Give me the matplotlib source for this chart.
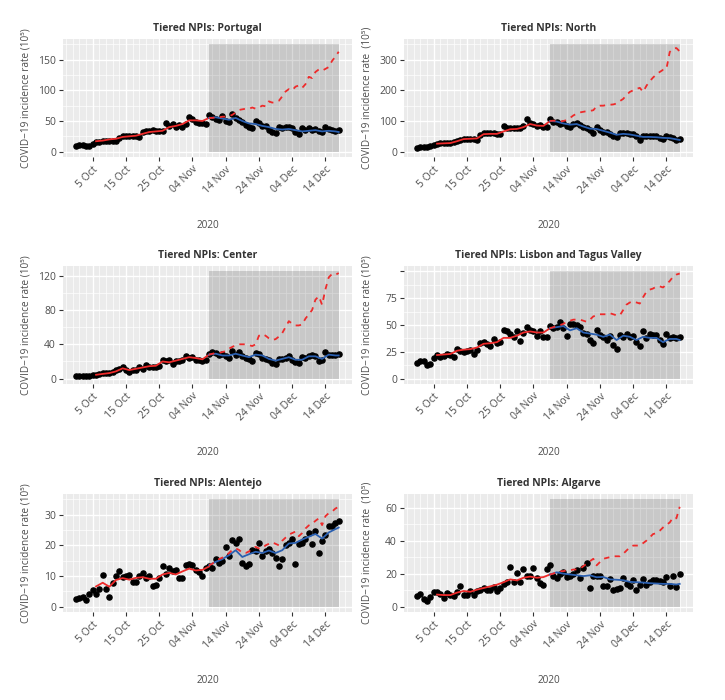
import numpy as np
import pandas as pd
import matplotlib
matplotlib.use("Agg")
import matplotlib.pyplot as plt
from matplotlib.patches import Rectangle

plt.rcParams['font.family'] = ['Open Sans', 'DejaVu Sans']

# daily observations 30 Sep - 18 Dec 2020
dates = pd.date_range("2020-09-30", "2020-12-18", freq="D")
fit_days = np.arange(6, 41, 2)            # fitted line (before tiered NPIs)
blue_days = np.append(np.arange(40, 79, 2), 79)  # fitted line with NPIs
post_days = np.arange(40, 80)            # counterfactual without NPIs
npi_start, npi_end = 40, 79

tick_dates = pd.to_datetime(["2020-10-05", "2020-10-15", "2020-10-25", "2020-11-04",
                             "2020-11-14", "2020-11-24", "2020-12-04", "2020-12-14"])
tick_labels = ["5 Oct", "15 Oct", "25 Oct", "04 Nov", "14 Nov", "24 Nov", "04 Dec", "14 Dec"]

# Portugal
portugal_obs = [10, 11, 11, 10, 9, 12, 15, 16, 17, 17, 18, 18, 17, 23, 25, 25, 26, 25, 25, 24,
                32, 34, 34, 35, 34, 33, 33, 46, 42, 45, 40, 44, 41, 45, 57, 54, 49, 47, 47, 45,
                60, 57, 54, 52, 58, 50, 48, 61, 55, 52, 48, 43, 41, 39, 50, 46, 42, 42, 36, 32,
                30, 41, 39, 41, 40, 38, 32, 28, 38, 35, 38, 36, 37, 33, 32, 40, 37, 35, 34, 35]
portugal_fit = [17, 18, 20, 21, 24, 25, 26, 29, 32, 33, 34, 40, 42, 45, 51, 51, 50, 55]
portugal_npi = [55, 56, 54, 52, 55, 50, 46, 45, 42, 40, 37, 36, 37, 35, 33, 34, 35, 33, 34, 33, 32]
portugal_cf = [55, 55, 56, 56, 57, 57, 58, 60, 64, 68, 69, 70, 70, 72, 70, 72, 75, 74, 82, 80,
               81, 83, 90, 98, 102, 100, 106, 108, 104, 110, 122, 120, 130, 134, 132, 135, 138, 148, 155, 163]

# North
north_obs = [13, 16, 16, 16, 17, 22, 26, 27, 27, 27, 28, 30, 36, 39, 41, 41, 41, 41, 39, 55,
             61, 61, 61, 61, 58, 57, 83, 78, 76, 76, 78, 78, 83, 105, 94, 90, 85, 86, 82, 80,
             105, 98, 98, 90, 93, 85, 80, 90, 94, 87, 80, 76, 69, 61, 80, 72, 65, 63, 58, 52,
             47, 61, 61, 60, 58, 58, 50, 39, 52, 50, 50, 50, 50, 44, 41, 50, 47, 45, 39, 41]
north_fit = [26, 27, 28, 34, 41, 42, 43, 57, 58, 58, 66, 73, 74, 80, 90, 85, 84, 100]
north_npi = [100, 98, 92, 88, 90, 82, 75, 74, 68, 62, 55, 58, 56, 52, 48, 48, 47, 45, 44, 40, 38]
north_cf = [100, 101, 100, 98, 100, 103, 110, 118, 124, 128, 130, 132, 133, 135, 148, 150, 150, 152, 153, 154,
            157, 165, 172, 185, 195, 200, 205, 208, 195, 215, 230, 242, 252, 260, 267, 270, 325, 336, 338, 327]

# Center
center_obs = [3, 3, 3, 3.2, 3.5, 4, 4, 5, 6, 6, 7, 8, 10, 11, 13, 10, 8, 10.5, 10, 14,
              11, 16, 13, 14, 14, 15, 22, 21, 22, 17, 20, 21, 22, 26, 24, 25, 21.5, 22, 21, 21.5,
              29, 31, 30, 27, 29, 26, 24.6, 32, 27, 31, 26, 24.6, 23.4, 20.7, 30, 29, 24.6, 23.4, 22, 18.4,
              17.6, 22.3, 23.4, 24.6, 26, 21.5, 19.5, 18.4, 25.4, 24.6, 26, 27, 26, 20.7, 22, 31, 27, 27, 27, 29]
center_fit = [4.5, 5.5, 6.5, 8.5, 12, 10, 11.5, 13, 14.5, 15, 20, 19, 21, 23, 25, 24, 22.5, 28]
center_npi = [28, 29, 27, 27, 29, 27, 25, 28, 27, 23, 21, 23, 25, 22, 22, 26, 26, 23, 28, 27, 27]
center_cf = [28, 29, 30, 30, 31, 32, 35, 37, 39, 40, 40, 40, 39, 38, 40, 50, 52, 50, 47, 45,
             46, 49, 53, 60, 67, 64, 62, 62, 63, 70, 75, 80, 92, 96, 86, 104, 118, 122, 121, 123]

# Lisbon and Tagus Valley
lisbon_obs = [15, 16.5, 16.5, 12.5, 13.4, 19, 22, 20, 21, 23, 22, 20, 28, 26, 25, 26, 27, 23.4, 27, 33.4,
              34, 32, 30, 36.5, 33, 34, 45, 44, 41.5, 39, 44.7, 35, 43, 48, 45, 44.7, 40, 44.7, 39, 38.4,
              49, 47, 48, 53, 47, 40, 51, 51, 50, 48, 43, 42, 36, 33, 45, 40.6, 39, 36, 40, 31,
              28, 40.6, 39, 42, 39, 40, 34, 30, 44.7, 37.5, 42, 40.6, 40.6, 36, 32, 42, 37.5, 39, 37.5, 38.4]
lisbon_fit = [22, 22.5, 23, 26, 27, 27.5, 29, 32.5, 33, 34, 38, 38, 40, 43, 44, 43, 43, 47]
lisbon_npi = [47, 48, 49, 45, 47, 43, 42, 41, 39, 41, 36, 40, 39, 36, 39, 38, 38, 34, 37, 37, 36]
lisbon_cf = [47, 48, 49, 50, 51, 53, 54, 55, 55, 55, 54, 53, 55, 58, 59, 60, 60, 60, 61, 60,
             59, 59, 64, 69, 71, 72, 71, 70, 76, 81, 83, 84, 86, 86, 85, 88, 91, 95, 97, 98]

# Alentejo
alentejo_obs = [2.5, 2.7, 3.3, 2.2, 4.2, 5.3, 4.2, 5.6, 10.2, 5.6, 3.3, 7.7, 9.9, 11.6, 9.6, 9.9, 10.4, 8, 8, 9.9,
                11, 9.4, 9.9, 6.7, 7.2, 9.4, 13.3, 10.5, 12.7, 11.6, 11.8, 9.4, 9.4, 13.5, 14, 13.5, 11.8, 11.3, 9.9, 12.7,
                13.1, 12.7, 15.7, 14.2, 14.9, 19.3, 16.6, 21.7, 20.8, 22, 14.2, 13.1, 14, 18.4, 18.2, 20.8, 16.4, 18.2, 18.8, 17.5,
                16, 13.1, 15.7, 20, 20.6, 22.2, 14, 20.4, 20.8, 22.2, 24.1, 20.4, 24.8, 17.5, 21.5, 23.5, 26.3, 26.3, 27.2, 28]
alentejo_fit = [6.6, 7.8, 6.5, 8.7, 9.3, 8.8, 9.4, 9.6, 9.1, 9.1, 10.5, 11, 10.5, 11.5, 12.4, 11.8, 12, 13.1]
alentejo_npi = [13.5, 14.6, 15.5, 16.8, 18.4, 16.2, 17.1, 17.9, 17.5, 18.3, 17.5, 18.4, 20.6, 20.8, 21.9,
                22.8, 23.7, 22.2, 24.2, 25.3, 25.8]
alentejo_cf = [13.5, 14, 15, 15.5, 16, 16.5, 17.5, 18.5, 19, 18.5, 17.5, 17.5, 18, 19, 19.5, 19, 19, 20, 20.5, 21,
               20.5, 20, 21.5, 22.5, 23.5, 24, 24.5, 23, 24, 25.5, 26.5, 27, 28, 28.8, 26.6, 29.5, 30.5, 31, 32, 32.6]

# Algarve
algarve_obs = [6.7, 7.7, 4.7, 3.3, 6.1, 8.7, 8.7, 7.7, 5.3, 8.1, 7.3, 6.7, 8.7, 12.8, 7.3, 7.3, 9.3, 7.3, 9.3, 10.2,
               11.4, 9.8, 9.8, 12.2, 9.3, 11.4, 13.8, 14.8, 24, 14.8, 20.3, 14.8, 23, 18.3, 18.3, 23.6, 17.5, 14.2, 13.4, 23,
               25, 18.3, 17.5, 19.9, 21, 17.9, 18.3, 19.5, 22.4, 17.5, 23.6, 26.4, 11.4, 18.3, 18.3, 18.3, 12.8, 12.8, 16.9, 10.2,
               10.8, 11.4, 17.5, 13.8, 12.8, 15.9, 10.2, 13.4, 16.9, 13.4, 14.8, 15.9, 15.9, 15.4, 14.8, 17.9, 12.8, 18.3, 11.8, 19.5]
algarve_fit = [7.3, 7, 7, 8.5, 9.5, 9, 10.3, 11.3, 12.3, 13.3, 14.8, 16.5, 15.9, 17.5, 18.2, 17.5, 17.9, 19.5]
algarve_npi = [19.5, 20.8, 20, 19.5, 19, 18.5, 19, 17.8, 18, 16.5, 16.3, 16, 15, 14.8, 14.6, 14.2, 14, 13.8,
               13.8, 13.4, 13.8]
algarve_cf = [19.5, 20, 21, 21.5, 21.5, 22, 22, 22.5, 22.5, 23, 24.5, 26, 27.5, 29, 25, 27, 29, 29.5, 30, 30.5,
              30.5, 30.5, 32, 34, 36, 37, 37, 37, 38.5, 40, 42, 44, 44.5, 46, 48, 49.5, 51, 54, 53.5, 60.5]

panels = [
    ("Portugal", portugal_obs, portugal_fit, portugal_npi, portugal_cf, 175,
     [0, 50, 100, 150], ["0", "50", "100", "150"], [25, 75, 125, 175], ""),
    ("North", north_obs, north_fit, north_npi, north_cf, 350,
     [0, 100, 200, 300], ["0", "100", "200", "300"], [50, 150, 250, 350], " "),
    ("Center", center_obs, center_fit, center_npi, center_cf, 125,
     [0, 40, 80, 120], ["0", "40", "80", "120"], [20, 60, 100], ""),
    ("Lisbon and Tagus Valley", lisbon_obs, lisbon_fit, lisbon_npi, lisbon_cf, 100,
     [0, 25, 50, 75, 100], ["0", "25", "50", "75", ""], [12.5, 37.5, 62.5, 87.5], ""),
    ("Alentejo", alentejo_obs, alentejo_fit, alentejo_npi, alentejo_cf, 35,
     [0, 10, 20, 30], ["0", "10", "20", "30"], [5, 15, 25, 35], ""),
    ("Algarve", algarve_obs, algarve_fit, algarve_npi, algarve_cf, 65,
     [0, 20, 40, 60], ["0", "20", "40", "60"], [10, 30, 50], " "),
]

W, H = 725, 700
fig = plt.figure(figsize=(W / 100, H / 100), dpi=100)
lefts = [63, 404]
tops = [39, 266, 494]
pw, ph = 289, 118

text_col = "#4d4d4d"
red = "#ee2a2a"
blue = "#2a5fb0"

for i, (name, obs, fit, npi, cf, top, yt, ytl, ymin, gap) in enumerate(panels):
    r, c = divmod(i, 2)
    ax = fig.add_axes([lefts[c] / W, 1 - (tops[r] + ph) / H, pw / W, ph / H])
    ax.set_facecolor("#ebebeb")
    ax.set_axisbelow(True)
    for s in ax.spines.values():
        s.set_visible(False)

    # tiered NPI period
    x0 = dates[npi_start]
    ax.add_patch(Rectangle((x0, 0), dates[npi_end] - x0, top,
                           facecolor="black", alpha=0.15, edgecolor="none", zorder=1))

    ax.plot(dates, obs, "o", color="black", markersize=3.7, zorder=2)
    ax.plot(dates[fit_days], fit, color=red, lw=1.3, zorder=3)
    ax.plot(dates[blue_days], npi, color=blue, lw=1.3, zorder=3)
    ax.plot(dates[post_days], cf, color=red, lw=1.3, dashes=(3, 3), zorder=3)

    span = dates[-1] - dates[0]
    ax.set_xlim(dates[0] - span * 0.05, dates[-1] + span * 0.05)
    ax.set_ylim(-0.05 * top, 1.05 * top)

    ax.set_xticks(tick_dates)
    ax.set_xticklabels(tick_labels, rotation=45, ha="right", rotation_mode="anchor")
    ax.set_xticks(pd.date_range("2020-09-27", "2020-12-22", freq="2D"), minor=True)
    ax.set_yticks(yt)
    ax.set_yticklabels(ytl)
    ax.set_yticks(ymin, minor=True)

    ax.grid(which="major", color="white", lw=1.0)
    ax.grid(which="minor", color="white", lw=0.5)
    ax.tick_params(which="major", length=3, width=0.8, color="#333333",
                   labelsize=7.5, labelcolor=text_col, pad=2)
    ax.tick_params(which="minor", length=0)

    ax.set_title("Tiered NPIs: " + name, fontsize=7.5, fontweight="bold",
                 color="#333333", pad=6)
    ax.set_ylabel("COVID\u221219 incidence rate " + gap + "(10\u2075)",
                  fontsize=7.2, color=text_col)
    ax.yaxis.set_label_coords(-0.108, 0.5)
    ax.set_xlabel("2020", fontsize=7.2, color=text_col)
    ax.xaxis.set_label_coords(0.5, -0.53)

fig.savefig("out.png", dpi=100)
